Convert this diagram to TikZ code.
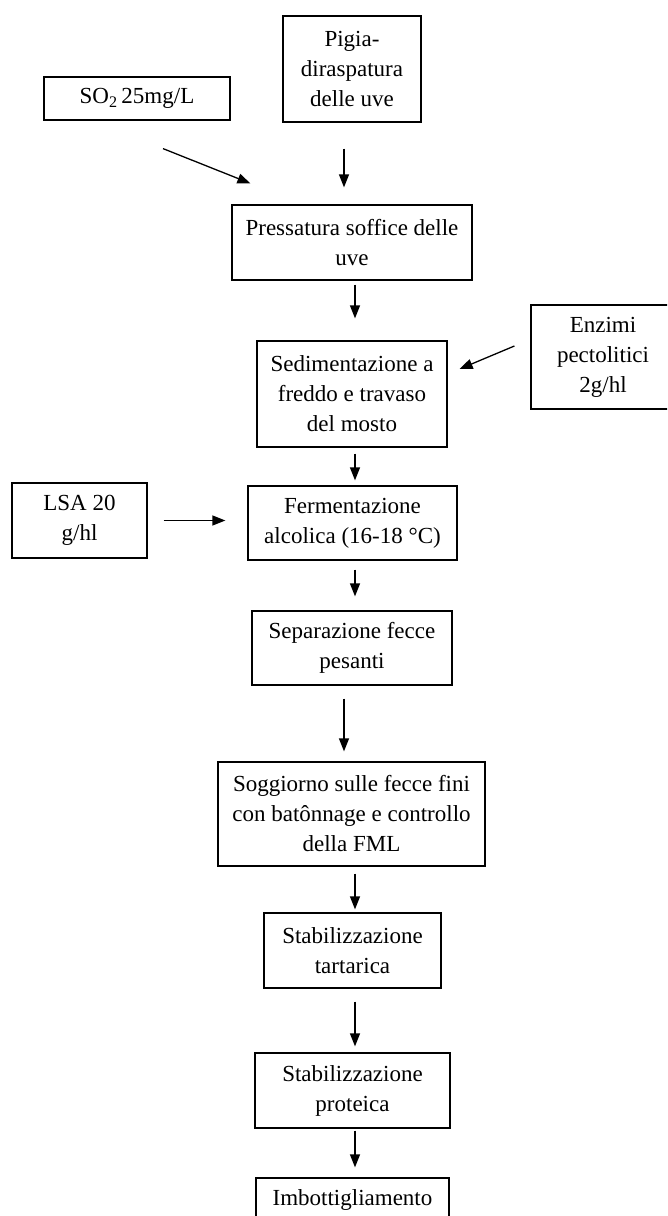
\documentclass[tikz,border=0pt]{standalone}
\usepackage{fontspec}
\setmainfont{Liberation Serif}
\usetikzlibrary{arrows.meta,calc}
\begin{document}
\begin{tikzpicture}[x=1pt,y=-1pt,
  box/.style={draw, line width=1.2pt, align=center, inner sep=0pt, font=\fontsize{23}{30}\selectfont},
  arr/.style={line width=1.3pt, -{Triangle[length=13pt,width=10pt]}}]
\useasboundingbox (0,0) rectangle (667,1216);
\clip (0,0) rectangle (667,1216);
\coordinate (col) at (355,0);
\coordinate (colb) at (344,0);
% boxes
\node[box, minimum width=186pt, minimum height=43pt] (so2) at (137,98.5) {SO\textsubscript{2}\,25mg/L};
\node[box, minimum width=138pt, minimum height=106pt] (pigia) at (352,69) {Pigia-\\diraspatura\\delle uve};
\node[box, minimum width=240pt, minimum height=75pt] (press) at (352,242.5) {Pressatura soffice delle\\uve};
\node[box, minimum width=144pt, minimum height=104pt] (enz) at (603,357) {Enzimi\\pectolitici\\2g/hl};
\node[box, minimum width=190pt, minimum height=106pt] (sed) at (352,394) {Sedimentazione a\\freddo e travaso\\del mosto};
\node[box, minimum width=135pt, minimum height=75pt] (lsa) at (79.5,520.5) {LSA 20\\g/hl};
\node[box, minimum width=209pt, minimum height=74pt] (ferm) at (352.5,523) {Fermentazione\\alcolica (16-18 °C)};
\node[box, minimum width=200pt, minimum height=74pt] (sep) at (352,648) {Separazione fecce\\pesanti};
\node[box, minimum width=267pt, minimum height=104pt] (sogg) at (351.5,814) {Soggiorno sulle fecce fini\\con batônnage e controllo\\della FML};
\node[box, minimum width=177pt, minimum height=75pt] (tart) at (352.5,950.5) {Stabilizzazione\\tartarica};
\node[box, minimum width=195pt, minimum height=75pt] (prot) at (352.5,1090.5) {Stabilizzazione\\proteica};
\node[box, minimum width=193pt, minimum height=44pt] (imb) at (352.5,1200) {Imbottigliamento};
% connectors
\draw[arr, shorten <=26pt, shorten >=17pt] (pigia.south -| colb) -- (press.north -| colb);
\draw[arr] ($(so2.south)+(26,28)$) -- ($(press.north west)+(19,-21)$);
\draw[arr, shorten <=4pt, shorten >=22pt] (press.south -| col) -- (sed.north -| col);
\draw[arr] ($(enz.west)+(-16,-11)$) -- ($(sed.east)+(12,-25)$);
\draw[arr, shorten <=6pt, shorten >=5pt] (sed.south -| col) -- (ferm.north -| col);
\draw[arr, shorten <=16pt, shorten >=22pt] (lsa.east) -- (lsa.east -| ferm.west);
\draw[arr, shorten <=9pt, shorten >=14pt] (ferm.south -| col) -- (sep.north -| col);
\draw[arr, shorten <=13pt, shorten >=10pt] (sep.south -| colb) -- (sogg.north -| colb);
\draw[arr, shorten <=7pt, shorten >=3pt] (sogg.south -| col) -- (tart.north -| col);
\draw[arr, shorten <=13pt, shorten >=6pt] (tart.south -| col) -- (prot.north -| col);
\draw[arr, shorten <=2pt, shorten >=10pt] (prot.south -| col) -- (imb.north -| col);
\end{tikzpicture}
\end{document}
